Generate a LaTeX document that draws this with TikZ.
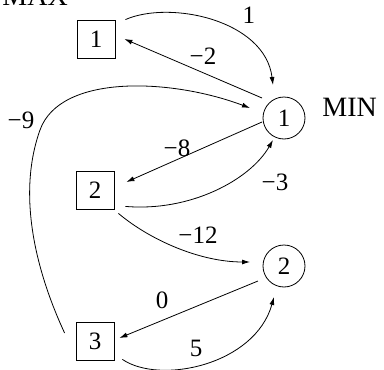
\documentclass[tikz,border=0pt]{standalone}
\usepackage{fontspec}
\setmainfont{Liberation Serif}
\usetikzlibrary{arrows.meta,calc}
\begin{document}
\begin{tikzpicture}[x=1pt,y=-1pt, line width=0.8pt,
  every node/.style={font=\fontsize{25}{30}\selectfont, inner sep=0pt},
  maxbox/.style={draw, minimum size=38pt},
  minnode/.style={draw, circle, minimum size=42pt},
  sidelbl/.style={font=\fontsize{28}{33}\selectfont, anchor=base west},
  arr/.style={-{Latex[length=8pt,width=5pt]}}]
\useasboundingbox (0,0) rectangle (384,370);

\node[maxbox] (m1) at (96,39) {1};
\node[maxbox] (m2) at (95,190) {2};
\node[maxbox] (m3) at (95,341) {3};
\node[minnode] (n1) at (284,118) {1};
\node[minnode] (n2) at (284,266) {2};

\node[sidelbl] (tmax) at (2,5) {MAX};
\node[sidelbl] (tmin) at (322,116) {MIN};

% edges
\draw[arr] ($(m1.north east)+(10,0)$) .. controls (170,0) and (265,20) .. ($(n1)+(-11,-33)$);
\draw[arr] ($(n1)+(-22,-20)$) -- ($(m1.east)+(9,0)$);
\draw[arr] ($(m3.west)+(-11,-8)$) .. controls (40,280) and (15,200) .. (40,130)
           .. controls (60,74) and (170,78) .. ($(n1)+(-34,-10)$);
\draw[arr] ($(n1)+(-22,4)$) -- ($(m2.east)+(12,-8)$);
\draw[arr] ($(m2.south east)+(11,-3)$) .. controls (190,212) and (250,180) .. ($(n1)+(-11,22)$);
\draw[arr] ($(m2.south east)+(4,4)$) .. controls (150,240) and (200,262) .. ($(n2)+(-34,-4)$);
\draw[arr] ($(n2)+(-26,15)$) -- ($(m3.east)+(5,-3)$);
\draw[arr] ($(m3.south east)+(8,-1)$) .. controls (160,385) and (255,365) .. ($(n2)+(-10,31)$);

% edge labels
\node (l1) at (249,15) {1};
\node (l2) at (203,56) {−2};
\node (l3) at (21,120) {−9};
\node (l4) at (177,148) {−8};
\node (l5) at (275,182) {−3};
\node (l6) at (198,235) {−12};
\node (l7) at (162,300) {0};
\node (l8) at (196,348) {5};
\end{tikzpicture}
\end{document}
